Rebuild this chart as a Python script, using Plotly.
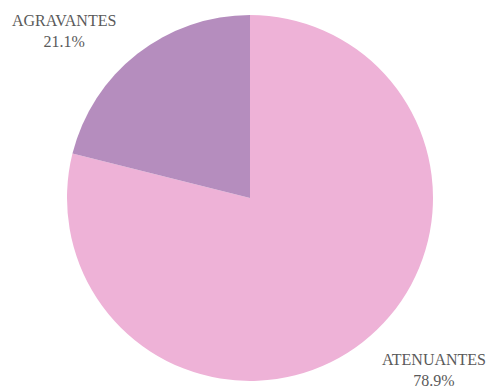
import plotly.graph_objects as go

labels = ["ATENUANTES", "AGRAVANTES"]
values = [78.9, 21.1]
colors = ["#EEB2D7", "#B58DBE"]

# label anchor positions (paper coords) for each slice
label_x = [1.003, -0.008]
label_y = [0.030, 0.956]

fig = go.Figure(go.Pie(
    labels=labels,
    values=values,
    sort=False,
    direction="clockwise",
    rotation=0,
    marker=dict(colors=colors, line=dict(width=0)),
    textinfo="none",
    hoverinfo="label+percent",
    showlegend=False,
))

total = sum(values)
for lab, val, x, y in zip(labels, values, label_x, label_y):
    fig.add_annotation(
        x=x, y=y, xref="paper", yref="paper",
        xanchor="center", yanchor="middle",
        text=f"{lab}<br>{val / total * 100:.1f}%",
        showarrow=False,
        font=dict(family="Liberation Serif, Times New Roman, serif", size=16, color="#5a5a5a"),
        align="center",
    )

fig.update_layout(
    width=488, height=389,
    margin=dict(l=67, r=55, t=15, b=8),
    paper_bgcolor="white",
    plot_bgcolor="white",
)

fig.write_html("out.html")
